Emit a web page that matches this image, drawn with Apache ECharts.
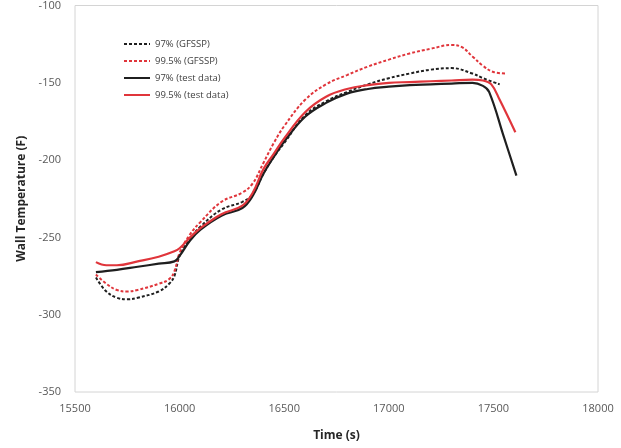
<!DOCTYPE html>
<html>
<head>
<meta charset="utf-8">
<script src="https://cdn.jsdelivr.net/npm/echarts@6/dist/echarts.min.js"></script>
<style>
    html, body { margin: 0; padding: 0; background: #fff; }
    #chart { width: 621px; height: 448px; }
</style>
</head>
<body>
<div id="chart"></div>
<script>
// 97% (GFSSP) - black dashed
const gfssp97Time = [15600, 15650, 15700, 15750, 15800, 15900, 15950, 15975, 16000, 16050, 16100, 16200, 16300, 16350, 16400, 16450, 16500, 16600, 16700, 16800, 16900, 17000, 17100, 17200, 17300, 17400, 17450, 17530]
const gfssp97Temp = [-276, -285, -289, -290, -289, -285, -280, -275, -262, -251, -243, -232, -227, -222, -209, -198, -189, -171, -162, -156, -151, -147, -144, -141.5, -140.5, -144, -147, -151]

// 99.5% (GFSSP) - red dashed
const gfssp995Time = [15600, 15650, 15700, 15750, 15800, 15900, 15950, 15975, 16000, 16050, 16100, 16200, 16300, 16350, 16400, 16450, 16500, 16600, 16700, 16800, 16900, 17000, 17100, 17200, 17300, 17350, 17400, 17450, 17500, 17565]
const gfssp995Temp = [-274, -280, -284, -285, -284, -280, -277, -272, -260, -248, -240, -227, -221, -215, -202, -189, -178, -161, -151, -145, -139.5, -135, -131, -128, -125.5, -127, -133, -139, -143, -144]

// 97% (test data) - black solid
const test97Time = [15600, 15700, 15800, 15900, 15975, 16000, 16050, 16100, 16200, 16300, 16350, 16400, 16450, 16500, 16600, 16700, 16800, 16900, 17000, 17100, 17200, 17300, 17400, 17450, 17480, 17550, 17610]
const test97Temp = [-272.5, -271, -269, -267, -265.5, -262, -252, -245, -236, -231, -223, -209, -198, -188, -172, -163, -157, -154, -152.5, -151.5, -151, -150.5, -150, -152, -156, -185, -210]

// 99.5% (test data) - red solid
const test995Time = [15600, 15650, 15700, 15800, 15900, 15975, 16000, 16050, 16100, 16200, 16300, 16350, 16400, 16450, 16500, 16600, 16700, 16800, 16900, 17000, 17100, 17200, 17300, 17400, 17450, 17490, 17530, 17605]
const test995Temp = [-266, -268, -268, -265.5, -262.5, -259, -257, -250, -244, -235, -229.5, -221, -206, -196, -186, -169, -159, -154, -151.5, -150, -149.5, -149, -148.5, -148, -148.5, -151, -161, -182]

const xTicks = { min: 15500, max: 18000, step: 500 }
const yTicks = { min: -350, max: -100, step: 50 }

const BLACK = '#1f1f1f'
const RED = '#e0353b'

const zip = (xs, ys) => xs.map((x, i) => [x, ys[i]])

const makeSeries = (name, xs, ys, color, dashed) => ({
    name,
    type: 'line',
    data: zip(xs, ys),
    smooth: 0.4,
    showSymbol: false,
    symbol: 'none',
    lineStyle: {
        color,
        width: dashed ? 2 : 2.2,
        type: dashed ? [3, 2] : 'solid',
    },
    itemStyle: { color },
})

const chart = echarts.init(document.getElementById('chart'))

chart.setOption({
    animation: false,
    backgroundColor: '#fff',
    textStyle: { fontFamily: 'Open Sans, Liberation Sans, sans-serif' },
    grid: {
        left: 75,
        right: 23,
        top: 5,
        bottom: 56,
        show: true,
        borderColor: '#d4d4d4',
        borderWidth: 1,
    },
    legend: {
        orient: 'vertical',
        left: 118,
        top: 34,
        itemWidth: 26,
        itemHeight: 8,
        itemGap: 7,
        itemStyle: { opacity: 0 },
        textStyle: { fontSize: 9.5, color: '#404040' },
        data: ['97% (GFSSP)', '99.5% (GFSSP)', '97% (test data)', '99.5% (test data)'],
    },
    xAxis: {
        type: 'value',
        min: xTicks.min,
        max: xTicks.max,
        interval: xTicks.step,
        name: 'Time (s)',
        nameLocation: 'middle',
        nameGap: 38,
        nameTextStyle: { fontSize: 12, fontWeight: 'bold', color: '#262626' },
        axisLine: { show: false },
        axisTick: { show: false },
        splitLine: { show: false },
        axisLabel: { fontSize: 11, color: '#595959', margin: 11, formatter: (v) => String(v) },
    },
    yAxis: {
        type: 'value',
        min: yTicks.min,
        max: yTicks.max,
        interval: yTicks.step,
        name: 'Wall Temperature (F)',
        nameLocation: 'middle',
        nameGap: 46,
        nameTextStyle: { fontSize: 12, fontWeight: 'bold', color: '#262626' },
        axisLine: { show: false },
        axisTick: { show: false },
        splitLine: { show: false },
        axisLabel: { fontSize: 11, color: '#595959', margin: 14 },
    },
    series: [
        makeSeries('97% (GFSSP)', gfssp97Time, gfssp97Temp, BLACK, true),
        makeSeries('99.5% (GFSSP)', gfssp995Time, gfssp995Temp, RED, true),
        makeSeries('97% (test data)', test97Time, test97Temp, BLACK, false),
        makeSeries('99.5% (test data)', test995Time, test995Temp, RED, false),
    ],
})
</script>
</body>
</html>
